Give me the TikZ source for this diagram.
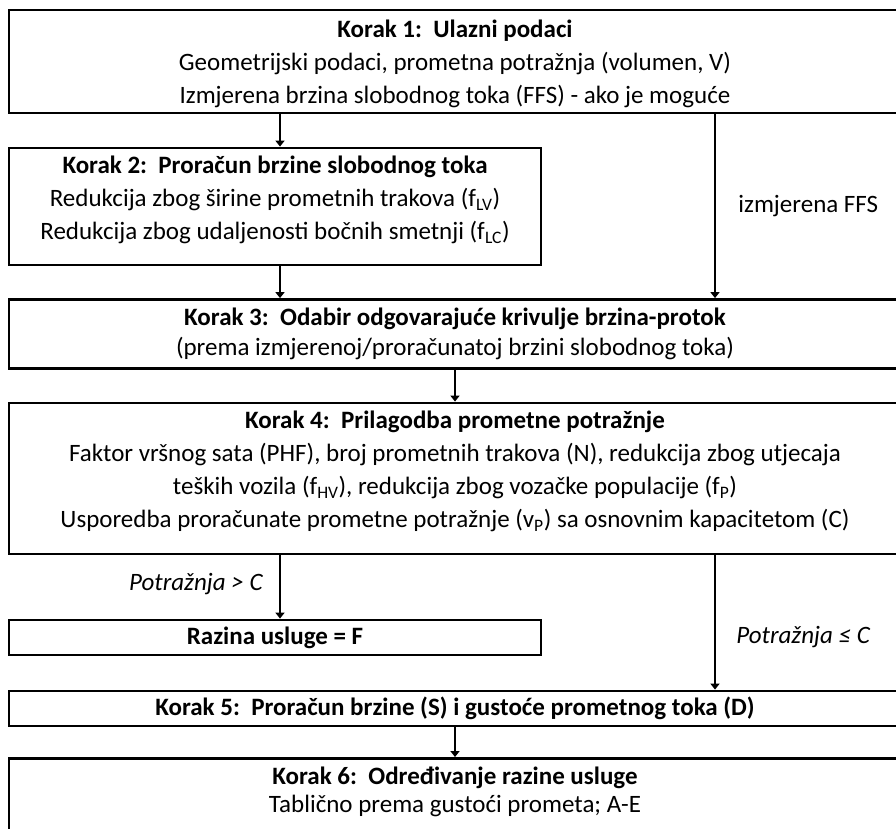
\documentclass[tikz,border=0pt]{standalone}
\usepackage{fontspec}
\setmainfont{Carlito}
\usetikzlibrary{arrows.meta,positioning,calc}

\tikzset{
  box/.style={draw, line width=2.8pt, rectangle, align=center, inner sep=0pt,
    font=\fontsize{25}{30}\selectfont},
  arr/.style={line width=2.8pt, -{Triangle[width=9pt,length=6pt]}},
  lbl/.style={font=\fontsize{25}{28}\selectfont, inner sep=0pt}
}

\begin{document}
\begin{tikzpicture}[x=1pt,y=-1pt]
\useasboundingbox (0,0) rectangle (896,828);
\clip (0,0) rectangle (896,828);
% columns of the connectors
\coordinate (cl) at (280,0);
\coordinate (cm) at (455,0);
\coordinate (cr) at (715,0);
% steps
\node[box, minimum width=892, minimum height=103, text depth=0pt, font=\fontsize{25}{33}\selectfont] (k1) at (455,61.5)
  {\textbf{Korak 1:\ \ Ulazni podaci}\\
   Geometrijski podaci, prometna potražnja (volumen, V)\\
   Izmjerena brzina slobodnog toka (FFS) - ako je moguće};
\node[box, minimum width=532, minimum height=117, text depth=18pt, font=\fontsize{25}{33}\selectfont] (k2) at (275,206.5)
  {\textbf{Korak 2:\ \ Proračun brzine slobodnog toka}\\
   Redukcija zbog širine prometnih trakova (f\textsubscript{LV})\\
   Redukcija zbog udaljenosti bočnih smetnji (f\textsubscript{LC})};
\node[box, minimum width=892, minimum height=69, font=\fontsize{25}{30}\selectfont] (k3) at (455,334)
  {\textbf{Korak 3:\ \ Odabir odgovarajuće krivulje brzina-protok}\\
   (prema izmjerenoj/proračunatoj brzini slobodnog toka)};
\node[box, minimum width=892, minimum height=151, text depth=19pt, font=\fontsize{25}{33}\selectfont] (k4) at (455,478.5)
  {\textbf{Korak 4:\ \ Prilagodba prometne potražnje}\\
   Faktor vršnog sata (PHF), broj prometnih trakova (N), redukcija zbog utjecaja\\
   teških vozila (f\textsubscript{HV}), redukcija zbog vozačke populacije (f\textsubscript{P})\\
   Usporedba proračunate prometne potražnje (v\textsubscript{P}) sa osnovnim kapacitetom (C)};
\node[box, minimum width=532, minimum height=35] (kF) at (275,637.5)
  {\textbf{Razina usluge = F}};
\node[box, minimum width=892, minimum height=35] (k5) at (455,708.5)
  {\textbf{Korak 5:\ \ Proračun brzine (S) i gustoće prometnog toka (D)}};
\node[box, minimum width=892, anchor=north, inner ysep=9pt, text depth=60pt,
  font=\fontsize{25}{28}\selectfont] (k6) at (455,757)
  {\textbf{Korak 6:\ \ Određivanje razine usluge}\\
   Tablično prema gustoći prometa; A-E};
% connectors
\draw[arr] (k1.south -| cl) -- (k2.north -| cl);
\draw[arr] (k1.south -| cr) -- (k3.north -| cr)
  node[lbl, midway, right=22pt] (ffs) {izmjerena FFS};
\draw[arr] (k2.south -| cl) -- (k3.north -| cl);
\draw[arr] (k3.south -| cm) -- (k4.north -| cm);
\draw[arr] (k4.south -| cl) -- (kF.north -| cl)
  node[lbl, pos=0.45, left=16pt, font=\fontsize{25}{28}\selectfont\itshape] (gt) {Potražnja > C};
\draw[arr] (k4.south -| cr) -- (k5.north -| cr)
  node[lbl, pos=0.61, right=20pt, font=\fontsize{25}{28}\selectfont\itshape] (le) {Potražnja ≤ C};
\draw[arr] (k5.south -| cm) -- (k6.north -| cm);
\end{tikzpicture}
\end{document}
